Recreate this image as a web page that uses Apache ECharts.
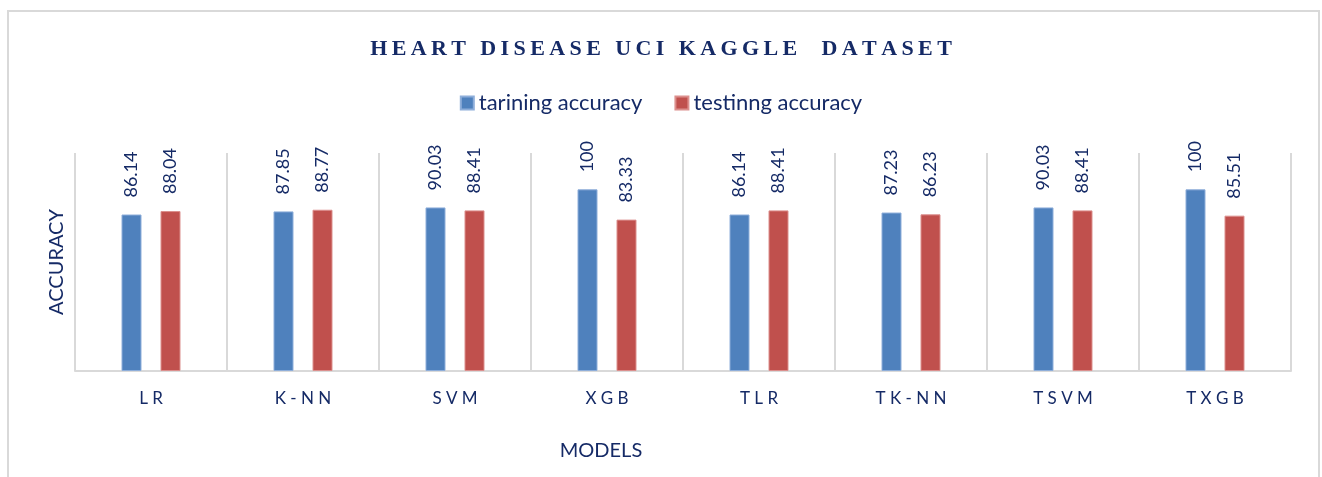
<!DOCTYPE html>
<html>
<head>
<meta charset="utf-8">
<title>Heart Disease UCI Kaggle Dataset</title>
<script src="https://cdn.jsdelivr.net/npm/echarts@6/dist/echarts.min.js"></script>
<style>
  html, body { margin: 0; padding: 0; background: #fff; }
  #main { width: 1322px; height: 477px; }
</style>
</head>
<body>
<div id="main"></div>
<script>
// 資料
const models = ['LR', 'K-NN', 'SVM', 'XGB', 'TLR', 'TK-NN', 'TSVM', 'TXGB'];
const trainingAccuracy = [86.14, 87.85, 90.03, 100, 86.14, 87.23, 90.03, 100];
const testingAccuracy = [88.04, 88.77, 88.41, 83.33, 88.41, 86.23, 88.41, 85.51];
const seriesNames = ['tarining accuracy', 'testinng accuracy'];
const chartTitle = 'HEART DISEASE UCI KAGGLE  DATASET';

const navy = '#152A66';
const gridGray = '#D9D9D9';

// 字距：在字元間插入空白
function spaced(s, sep) {
    return s.split('').join(sep);
}

const myChart = echarts.init(document.getElementById('main'));

const barLabel = {
    show: true,
    position: 'top',
    rotate: 90,
    distance: 17,
    align: 'left',
    verticalAlign: 'middle',
    fontFamily: 'Lato, sans-serif',
    fontSize: 18,
    color: navy
};

const option = {
    animation: false,
    title: {
        text: spaced(chartTitle, '\u2009'),
        left: 'center',
        top: 33,
        textStyle: {
            fontFamily: '"Liberation Serif", "Times New Roman", serif',
            fontWeight: 'bold',
            fontSize: 22,
            color: navy
        }
    },
    legend: {
        data: seriesNames,
        top: 87,
        left: 'center',
        itemWidth: 13,
        itemHeight: 13,
        itemGap: 32,
        icon: 'rect',
        textStyle: {
            fontFamily: 'Lato, sans-serif',
            fontSize: 22,
            color: navy
        }
    },
    graphic: [{
        type: 'rect',
        shape: { x: 8, y: 11, width: 1311, height: 480 },
        style: { fill: 'none', stroke: gridGray, lineWidth: 2 },
        silent: true
    }],
    grid: {
        left: 75,
        right: 31,
        top: 153,
        bottom: 106
    },
    xAxis: {
        type: 'category',
        data: models,
        axisLine: { lineStyle: { color: gridGray, width: 2 } },
        axisTick: { show: false },
        splitLine: { show: true, lineStyle: { color: gridGray, width: 2 } },
        axisLabel: {
            margin: 19,
            fontFamily: 'Lato, sans-serif',
            fontSize: 17,
            color: navy,
            formatter: v => spaced(v, ' ')
        },
        name: 'MODELS',
        nameLocation: 'middle',
        nameGap: 70,
        nameTextStyle: {
            fontFamily: 'Lato, sans-serif',
            fontSize: 20,
            color: navy,
            padding: [0, 164, 0, 0]
        }
    },
    yAxis: {
        type: 'value',
        min: 0,
        max: 120,
        interval: 20,
        axisLine: { show: false },
        axisTick: { show: false },
        axisLabel: { show: false },
        splitLine: { show: false },
        name: 'ACCURACY',
        nameLocation: 'middle',
        nameGap: 8,
        nameTextStyle: {
            fontFamily: 'Lato, sans-serif',
            fontSize: 20,
            color: navy
        }
    },
    series: [
        {
            name: seriesNames[0],
            type: 'bar',
            data: trainingAccuracy,
            barWidth: 20,
            barGap: '95%',
            itemStyle: { color: '#4F81BD', borderColor: '#8EAEDA', borderWidth: 1 },
            label: barLabel
        },
        {
            name: seriesNames[1],
            type: 'bar',
            data: testingAccuracy,
            barWidth: 20,
            itemStyle: { color: '#C0504D', borderColor: '#DC8F8D', borderWidth: 1 },
            label: barLabel
        }
    ]
};

myChart.setOption(option);

window.addEventListener('resize', function() {
    myChart.resize();
});
</script>
</body>
</html>
